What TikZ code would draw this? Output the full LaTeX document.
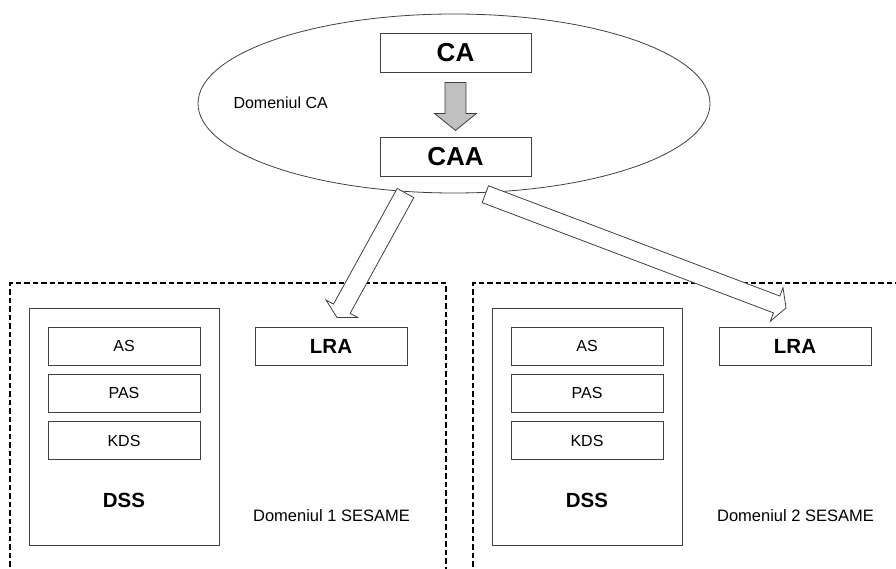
\documentclass[tikz,border=0pt]{standalone}
\usepackage{fontspec}
\setmainfont{Liberation Sans}
\usetikzlibrary{calc,shapes.geometric}
\definecolor{edge}{HTML}{404040}
\definecolor{arrowgray}{HTML}{C0C0C0}
\tikzset{
  box/.style={draw=edge, line width=0.9pt, inner sep=0pt, fill=white},
  bigbox/.style={box, minimum width=151pt, minimum height=39pt, font=\fontsize{26}{28}\selectfont\bfseries},
  subbox/.style={box, minimum width=152pt, minimum height=38pt, font=\fontsize{16}{18}\selectfont},
  lrabox/.style={box, minimum width=152pt, minimum height=38pt, font=\fontsize{20.5}{22}\selectfont\bfseries},
  dssbox/.style={box, minimum width=190pt, minimum height=237pt},
  domline/.style={draw=black, line width=1.4pt, dash pattern=on 5.5pt off 3pt},
  hollow/.style={draw=edge, line width=0.8pt, fill=white, line join=miter},
  lbl/.style={font=\fontsize{16.5}{18}\selectfont},
}
\begin{document}
\begin{tikzpicture}[x=1pt,y=-1pt]
\useasboundingbox (0,0) rectangle (896,569);

% CA domain ellipse
\node[draw=edge, line width=0.8pt, ellipse, minimum width=512pt, minimum height=179pt, inner sep=0pt] (dom) at (454,103.5) {};
\node[font=\fontsize{16}{18}\selectfont, anchor=west] (domca) at (230,103) {Domeniul CA};
\node[bigbox] (ca) at (455.5,52.5) {CA};
\node[bigbox] (caa) at (455.5,156.5) {CAA};
% grey arrow CA -> CAA
\draw[draw=edge, line width=0.8pt, fill=arrowgray, shift={(ca.south)}]
  (-10.5,10) -- (10.5,10) -- (10.5,41) -- (21,41) -- (0,58) -- (-21,41) -- (-10.5,41) -- cycle;

% SESAME domains (dashed)
\draw[domline] (10,575) -- (10,283) -- (446,283) -- (446,575);
\draw[domline] (473,575) -- (473,283) -- (902,283);

% Domain 1
\node[dssbox] (dss1) at (124,426.5) {};
\node[subbox] (as1) at (124,346) {AS};
\node[subbox] (pas1) at (124,393) {PAS};
\node[subbox] (kds1) at (124,440.5) {KDS};
\node[font=\fontsize{20.5}{22}\selectfont\bfseries] (dsst1) at (124,500) {DSS};
\node[lrabox] (lra1) at (331,346) {LRA};
\node[lbl] (d1) at (331.5,516) {Domeniul 1 SESAME};

% Domain 2
\node[dssbox] (dss2) at (587,426.5) {};
\node[subbox] (as2) at (587,346) {AS};
\node[subbox] (pas2) at (587,393) {PAS};
\node[subbox] (kds2) at (587,440.5) {KDS};
\node[font=\fontsize{20.5}{22}\selectfont\bfseries] (dsst2) at (587,500) {DSS};
\node[lrabox] (lra2) at (795,346) {LRA};
\node[lbl] (d2) at (795.5,516) {Domeniul 2 SESAME};

% hollow arrows CAA domain -> LRA
\coordinate (t1) at (405.5,193);
\coordinate (p1) at (337,317.5);
\coordinate (h1) at ($(p1)!10pt!(t1)$);
\draw[hollow] ($(t1)!9.5pt!90:(p1)$) -- ($(h1)!9.5pt!90:(p1)$) -- ($(h1)!18pt!90:(p1)$) -- (p1)
  -- ($(h1)!18pt!-90:(p1)$) -- ($(h1)!9.5pt!-90:(p1)$) -- ($(t1)!9.5pt!-90:(p1)$) -- cycle;

\coordinate (t2) at (485.3,194.2);
\coordinate (p2) at (786,308);
\coordinate (h2) at ($(p2)!10pt!(t2)$);
\draw[hollow] ($(t2)!9pt!90:(p2)$) -- ($(h2)!9pt!90:(p2)$) -- ($(h2)!18pt!90:(p2)$) -- (p2)
  -- ($(h2)!18pt!-90:(p2)$) -- ($(h2)!9pt!-90:(p2)$) -- ($(t2)!9pt!-90:(p2)$) -- cycle;
\end{tikzpicture}
\end{document}
